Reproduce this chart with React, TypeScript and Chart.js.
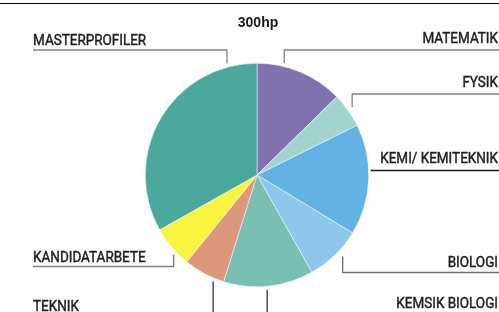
import React, { useEffect, useRef } from "react";
import { Chart, registerables } from "chart.js";

Chart.register(...registerables);

const titleText = "300hp";
const categories = [
  "MATEMATIK",
  "FYSIK",
  "KEMI/ KEMITEKNIK",
  "BIOLOGI",
  "KEMSIK BIOLOGI",
  "TEKNIK",
  "KANDIDATARBETE",
  "MASTERPROFILER",
];
const values = [38, 15, 48, 24.5, 39, 18, 18, 99.5];
const colors = [
  "#7f72ae",
  "#a3d5cf",
  "#62b2e3",
  "#8dc7ec",
  "#79bfb2",
  "#dc977c",
  "#f8f440",
  "#4aa99c",
];

// label layout: side, text baseline, underline y, where on slice (0..1) the leader starts
const labelSide = ["right", "right", "right", "right", "right", "left", "left", "left"];
const labelBaseline = [43, 87, 163, 267, 308, 311, 262, 45];
const labelUnderline = [50, 94, 170.5, 272.5, 330, 330, 266.5, 50];
const leaderFraction = [0.3, 0.5, 0.41, 0.42, 0.52, 0.23, 0.34, 0.874];
const leaderGap = [3.5, 5, 3, 6.5, 3.5, 3.5, 3.5, 4];
const leaderColor = ["#808080", "#808080", "#1a1a1a", "#707070", "#333333", "#333333", "#808080", "#808080"];
const leaderWidth = [1.3, 1.3, 1.6, 1.3, 1.3, 1.3, 1.5, 1.3];

const labelsPlugin = {
  id: "pieLabels",
  afterDraw(chart: any) {
    const ctx = chart.ctx;
    const W = chart.width;
    const meta = chart.getDatasetMeta(0);
    ctx.save();
    // top rule
    ctx.strokeStyle = "#000";
    ctx.lineWidth = 1;
    ctx.beginPath();
    ctx.moveTo(0, 3.5);
    ctx.lineTo(W, 3.5);
    ctx.stroke();

    // title
    const first = meta.data[0];
    ctx.fillStyle = "#1a1a1a";
    ctx.font = "bold 14px 'Liberation Sans', Arial, sans-serif";
    ctx.textAlign = "center";
    ctx.textBaseline = "alphabetic";
    ctx.fillText(titleText, first.x + 1, 27);

    const sx = 0.93;
    meta.data.forEach((arc: any, i: number) => {
      const { x, y, startAngle, endAngle, outerRadius } = arc.getProps(
        ["x", "y", "startAngle", "endAngle", "outerRadius"],
        true
      );
      const a = startAngle + (endAngle - startAngle) * leaderFraction[i];
      const r = outerRadius + leaderGap[i];
      const px = x + Math.cos(a) * r;
      const py = y + Math.sin(a) * r;
      const uy = labelUnderline[i];
      const left = labelSide[i] === "left";
      const edgeX = left ? 33 : W;
      ctx.strokeStyle = leaderColor[i];
      ctx.lineWidth = leaderWidth[i];
      ctx.beginPath();
      ctx.moveTo(px, py);
      ctx.lineTo(px, uy);
      ctx.lineTo(edgeX, uy);
      ctx.stroke();

      ctx.save();
      const tx = left ? 33 : W - 1;
      ctx.translate(tx, labelBaseline[i]);
      ctx.scale(sx, 1);
      ctx.fillStyle = "#1f1f1f";
      ctx.strokeStyle = "#1f1f1f";
      ctx.lineWidth = 0.45;
      ctx.font = "14.5px Roboto, sans-serif";
      ctx.textAlign = left ? "left" : "right";
      ctx.fillText(categories[i], 0, 0);
      ctx.strokeText(categories[i], 0, 0);
      ctx.restore();
    });
    ctx.restore();
  },
};

export default function App() {
  const ref = useRef<HTMLCanvasElement | null>(null);
  useEffect(() => {
    document.body.style.margin = "0";
    const canvas = ref.current;
    if (!canvas) return;
    const chart = new Chart(canvas, {
      type: "pie",
      data: {
        labels: categories,
        datasets: [
          {
            data: values,
            backgroundColor: colors,
            borderColor: "#ffffff",
            borderWidth: 0.5,
          },
        ],
      },
      options: {
        animation: false,
        responsive: false,
        devicePixelRatio: 1,
        layout: { padding: { left: 145, right: 130, top: 63, bottom: 25 } },
        plugins: {
          legend: { display: false },
          title: { display: false },
          tooltip: { enabled: false },
        },
      },
      plugins: [labelsPlugin],
    });
    return () => chart.destroy();
  }, []);
  return (
    <div style={{ width: 499, height: 312, background: "#fff" }}>
      <canvas ref={ref} width={499} height={312} style={{ width: 499, height: 312, display: "block" }} />
    </div>
  );
}
